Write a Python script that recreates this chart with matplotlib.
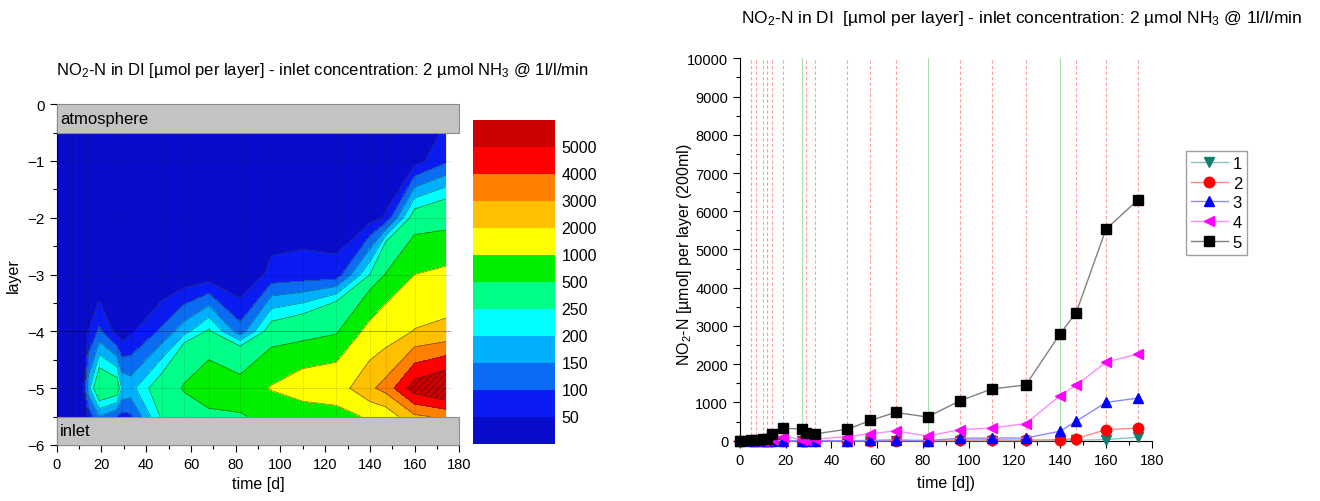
import matplotlib
matplotlib.use("Agg")
import matplotlib.pyplot as plt
from matplotlib.patches import Rectangle
from matplotlib.ticker import MultipleLocator
import numpy as np

plt.rcParams["font.family"] = ["Liberation Sans", "DejaVu Sans"]
plt.rcParams["mathtext.fontset"] = "custom"
plt.rcParams["mathtext.rm"] = "Liberation Sans"
plt.rcParams["mathtext.it"] = "Liberation Sans:italic"
plt.rcParams["hatch.color"] = "#7a0000"
plt.rcParams["hatch.linewidth"] = 0.6

# sampling days (time [d])
days = [0, 5, 7, 10, 12, 14, 19, 27, 29, 33, 47, 57, 68, 82, 96, 110, 125, 140, 147, 160, 174]

# NO2-N per layer [umol], layer 1 = top (atmosphere side), layer 5 = bottom (inlet side)
layer_1 = [0, 0, 0, 0, 0, 0, 0, 0, 0, 0, 0, 0, 0, 0, 0, 0, 0, 5, 10, 30, 90]
layer_2 = [0, 0, 0, 0, 0, 0, 0, 0, 0, 0, 0, 0, 5, 5, 20, 25, 15, 30, 55, 290, 330]
layer_3 = [0, 0, 0, 0, 0, 0, 0, 0, 0, 0, 0, 10, 20, 0, 65, 70, 70, 250, 510, 1000, 1116]
layer_4 = [0, 0, 0, 0, 20, 50, 110, 30, 20, 40, 110, 180, 260, 120, 290, 330, 450, 1180, 1450, 2050, 2270]
layer_5 = [0, 15, 25, 35, 50, 175, 330, 300, 200, 180, 300, 530, 740, 620, 1040, 1350, 1460, 2800, 3350, 5530, 6300]

# contour edge rows (just below the atmosphere box / just above the inlet box)
atmosphere_edge = [0, 0, 0, 0, 0, 0, 0, 0, 0, 0, 0, 0, 0, 0, 0, 0, 0, 0, 0, 5, 60]
inlet_edge = [0, 0, 0, 0, 10, 60, 150, 100, 80, 90, 260, 320, 400, 480, 560, 590, 700, 1100, 1300, 2800, 3200]
row_depths = [-0.5, -1, -2, -3, -4, -5, -5.5]

green_days = [27, 82, 140]

levels = [-1, 50, 100, 150, 200, 250, 500, 1000, 2000, 3000, 4000, 5000, 100000]
level_labels = ["50", "100", "150", "200", "250", "500", "1000", "2000", "3000", "4000", "5000"]
band_colors = ["#0a0ccc", "#0a1cf2", "#0a6cf2", "#00b0ff", "#00ffff", "#00ff88",
               "#00ee00", "#ffff00", "#ffc000", "#ff8000", "#ff0000", "#cc0000"]

series_labels = ["1", "2", "3", "4", "5"]
series_markers = ["v", "o", "^", "<", "s"]
marker_colors = ["#12806f", "#ff0000", "#0000ff", "#ff00ff", "#000000"]
line_colors = ["#86c5bd", "#ff8a8a", "#8a8aff", "#ff8aff", "#808080"]

title_text = r"NO$_2$-N in DI [µmol per layer] - inlet concentration: 2 µmol NH$_3$ @ 1l/l/min"
title_text_right = r"NO$_2$-N in DI  [µmol per layer] - inlet concentration: 2 µmol NH$_3$ @ 1l/l/min"

fig = plt.figure(figsize=(13.2, 5.02), dpi=100)

# ---------------- left: contour ----------------
ax = fig.add_axes([0.043, 0.1116, 0.305, 0.679])
grid = np.array([atmosphere_edge, layer_1, layer_2, layer_3, layer_4, layer_5, inlet_edge])
ax.contourf(days, row_depths, grid, levels=levels, colors=band_colors,
            hatches=[None] * 11 + ["/////"], zorder=1)
ax.contour(days, row_depths, grid, levels=levels[1:-1], colors="#303030",
           linewidths=0.5, alpha=0.65, zorder=2)
for d in days[1:]:
    ax.plot([d, d], [-5.5, -0.5], color="#000000", lw=0.5, alpha=0.12, zorder=3)
for depth in [-1, -2, -3, -4, -5]:
    ax.plot([0, 176], [depth, depth], color="#000000", lw=0.7,
            alpha=0.35 if depth == -4 else 0.12, zorder=3)

ax.add_patch(Rectangle((0, -0.5), 180, 0.5, facecolor="#c3c3c3", edgecolor="#8c8c8c",
                       lw=0.8, zorder=4, clip_on=False))
ax.add_patch(Rectangle((0, -6), 180, 0.5, facecolor="#c3c3c3", edgecolor="#8c8c8c",
                       lw=0.8, zorder=4, clip_on=False))
ax.text(1.5, -0.25, "atmosphere", fontsize=12, va="center", ha="left", zorder=5)
ax.text(1.5, -5.75, "inlet", fontsize=12, va="center", ha="left", zorder=5)

ax.set_xlim(0, 180)
ax.set_ylim(-6, 0)
ax.xaxis.set_major_locator(MultipleLocator(20))
ax.xaxis.set_minor_locator(MultipleLocator(10))
ax.yaxis.set_major_locator(MultipleLocator(1))
ax.yaxis.set_minor_locator(MultipleLocator(0.5))
ax.tick_params(direction="out", length=5, width=0.8, labelsize=10.5)
ax.tick_params(axis="y", labelsize=11)
ax.tick_params(which="minor", direction="out", length=3, width=0.8)
for side in ["top", "right"]:
    ax.spines[side].set_visible(False)
ax.set_xlabel("time [d]", fontsize=11.5, labelpad=4)
ax.set_ylabel("layer", fontsize=11.5, labelpad=5)
fig.text(0.244, 0.86, title_text, fontsize=12, ha="center", va="center")

# ---------------- colour scale ----------------
cax = fig.add_axes([0.3585, 0.1135, 0.062, 0.645])
for i, c in enumerate(band_colors):
    cax.add_patch(Rectangle((0, i), 1, 1, facecolor=c, edgecolor="none", lw=0,
                            hatch="/////" if i == len(band_colors) - 1 else None))
for i, lab in enumerate(level_labels):
    cax.text(1.08, i + 1, lab, fontsize=11.5, va="center", ha="left")
cax.set_xlim(0, 1)
cax.set_ylim(0, len(band_colors))
cax.axis("off")

# ---------------- right: line chart ----------------
ax2 = fig.add_axes([0.5606, 0.1201, 0.3119, 0.7618])
for d in days[1:]:
    if d in green_days:
        ax2.axvline(d, color="#a8dea8", lw=0.8, zorder=1)
    else:
        ax2.axvline(d, color="#ffa0a0", lw=0.8, ls=(0, (3, 2)), zorder=1)

all_layers = [layer_1, layer_2, layer_3, layer_4, layer_5]
for k, vals in enumerate(all_layers):
    ax2.plot(days, vals, color=line_colors[k], lw=1.0, marker=series_markers[k],
             ms=7.5, mfc=marker_colors[k], mec=marker_colors[k], label=series_labels[k],
             clip_on=False, zorder=3 + k)

ax2.set_xlim(0, 180)
ax2.set_ylim(0, 10000)
ax2.xaxis.set_major_locator(MultipleLocator(20))
ax2.xaxis.set_minor_locator(MultipleLocator(10))
ax2.yaxis.set_major_locator(MultipleLocator(1000))
ax2.yaxis.set_minor_locator(MultipleLocator(500))
ax2.tick_params(direction="out", length=5, width=0.8, labelsize=10.5)
ax2.tick_params(axis="y", labelsize=10.5)
ax2.tick_params(which="minor", direction="out", length=3, width=0.8)
for side in ["top", "right"]:
    ax2.spines[side].set_visible(False)
ax2.set_xlabel("time [d])", fontsize=11.5, labelpad=6)
ax2.set_ylabel(r"NO$_2$-N [µmol] per layer (200ml)", fontsize=11.5)
ax2.yaxis.set_label_coords(-0.112, 0.488)
fig.text(0.774, 0.964, title_text_right, fontsize=12.5, ha="center", va="center")

ax2.legend(loc="upper left", bbox_to_anchor=(1186 / 1320, 1 - 152 / 502),
           bbox_transform=fig.transFigure, borderaxespad=0, fontsize=12,
           handlelength=2.2, handletextpad=0.3, labelspacing=0.28, borderpad=0.3,
           fancybox=False, edgecolor="#a0a0a0", framealpha=1)

fig.savefig("out.png", dpi=100)
